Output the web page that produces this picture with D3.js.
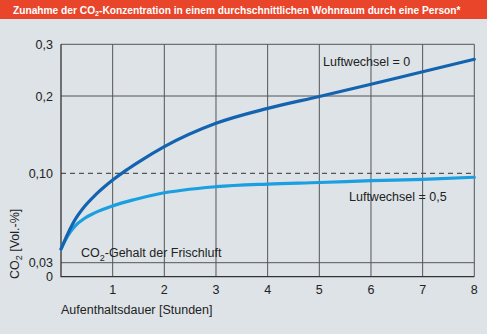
<!DOCTYPE html>
<html><head><meta charset="utf-8">
<script src="https://cdn.jsdelivr.net/npm/d3@7"></script>
<style>
html,body{margin:0;padding:0;background:#dde3e7;}
svg{display:block;font-family:"Liberation Sans",Arial,sans-serif;}
</style></head>
<body><svg id="c" width="487" height="334"></svg>
<script>
const hours0 = [0, 0.135, 0.265, 0.459, 0.652, 0.846, 1, 1.264, 1.5, 2, 3, 4, 5, 6, 7, 8];
const luft0 = [0.0407, 0.0530, 0.0632, 0.0742, 0.0825, 0.0896, 0.0947, 0.1041, 0.1145, 0.1345, 0.1647, 0.184, 0.1994, 0.2226, 0.247, 0.271];
const hours05 = [0, 0.135, 0.265, 0.459, 0.652, 1, 1.43, 1.88, 3, 4, 5, 6, 7, 8];
const luft05 = [0.0407, 0.0513, 0.0584, 0.0648, 0.0690, 0.0745, 0.0795, 0.0838, 0.0895, 0.0916, 0.0928, 0.0942, 0.0953, 0.0969];
const xTicks = [1, 2, 3, 4, 5, 6, 7, 8];
const yTicks = [0, 0.03, 0.10, 0.2, 0.3];
const yTickLabels = ["0", "0,03", "0,10", "0,2", "0,3"];
const freshAir = 0.03;
const refLevel = 0.10;

const svg = d3.select("#c");
const x = d3.scaleLinear().domain([0, 8]).range([61, 474.3]);
const y = d3.scaleLinear().domain([0, 0.03, 0.1, 0.2, 0.3]).range([276.7, 262.7, 173.3, 96, 44.3]);

svg.append("rect").attr("width", 487).attr("height", 334).attr("fill", "#dde3e7");
svg.append("rect").attr("x", 0).attr("y", 0).attr("width", 487).attr("height", 19).attr("fill", "#e8452b");
const title = svg.append("text").attr("x", 13).attr("y", 13.5).attr("fill", "#fff")
  .attr("font-size", 10.2).attr("font-weight", "bold");
title.append("tspan").text("Zunahme der CO");
title.append("tspan").attr("dy", 2.5).attr("font-size", 7).text("2");
title.append("tspan").attr("dy", -2.5).text("-Konzentration in einem durchschnittlichen Wohnraum durch eine Person*");

const grid = svg.append("g").attr("stroke", "#555").attr("stroke-width", 1).attr("fill", "none");
xTicks.forEach(t => grid.append("line").attr("x1", x(t)).attr("x2", x(t)).attr("y1", y(0.3)).attr("y2", y(0)));
[0.3, 0.2, freshAir].forEach(v => grid.append("line").attr("x1", x(0)).attr("x2", x(8)).attr("y1", y(v)).attr("y2", y(v)));
svg.append("line").attr("x1", x(0)).attr("x2", x(8)).attr("y1", y(refLevel)).attr("y2", y(refLevel))
  .attr("stroke", "#555").attr("stroke-width", 1.2).attr("stroke-dasharray", "5,4");
svg.append("path").attr("d", `M${x(0)},${y(0.3)}V${y(0)}H${x(8)}`).attr("fill", "none").attr("stroke", "#333").attr("stroke-width", 1.3);

const line = d3.line().x(d => x(d[0])).y(d => y(d[1])).curve(d3.curveMonotoneX);
svg.append("path").datum(hours05.map((h, i) => [h, luft05[i]])).attr("d", line)
  .attr("fill", "none").attr("stroke", "#1a9fe0").attr("stroke-width", 3.2).attr("stroke-linecap", "round");
svg.append("path").datum(hours0.map((h, i) => [h, luft0[i]])).attr("d", line)
  .attr("fill", "none").attr("stroke", "#1363b0").attr("stroke-width", 3.2).attr("stroke-linecap", "round");

yTicks.forEach((t, i) => {
  svg.append("text").attr("x", 53).attr("y", y(t) + 4.5).attr("text-anchor", "end")
    .attr("font-size", 12.5).attr("fill", "#222").text(yTickLabels[i]);
});
xTicks.forEach(t => {
  svg.append("text").attr("x", x(t)).attr("y", 294).attr("text-anchor", "middle")
    .attr("font-size", 12.5).attr("fill", "#222").text(t);
});
svg.append("text").attr("x", 61).attr("y", 314).attr("font-size", 12.5).attr("fill", "#222").text("Aufenthaltsdauer [Stunden]");
const yt = svg.append("text").attr("transform", "translate(18.5,279) rotate(-90)").attr("font-size", 12.5).attr("fill", "#222");
yt.append("tspan").text("CO");
yt.append("tspan").attr("dy", 3.5).attr("font-size", 9).text("2");
yt.append("tspan").attr("dy", -3.5).text(" [Vol.-%]");

const fr = svg.append("text").attr("x", 81).attr("y", 257).attr("font-size", 12.5).attr("fill", "#222");
fr.append("tspan").text("CO");
fr.append("tspan").attr("dy", 3.5).attr("font-size", 9).text("2");
fr.append("tspan").attr("dy", -3.5).text("-Gehalt der Frischluft");
svg.append("text").attr("x", 323).attr("y", 66).attr("font-size", 12.5).attr("fill", "#222").text("Luftwechsel = 0");
svg.append("text").attr("x", 349).attr("y", 201).attr("font-size", 12.5).attr("fill", "#222").text("Luftwechsel = 0,5");
</script></body></html>
